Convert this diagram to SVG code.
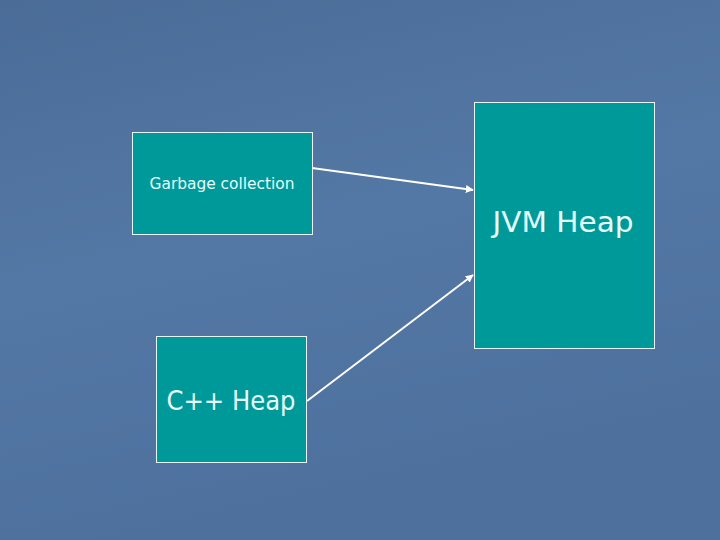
<svg xmlns="http://www.w3.org/2000/svg" width="720" height="540" viewBox="0 0 720 540">
<style>
.box{fill:#009999;stroke:#e8f4f4;stroke-width:1}
.lbl{fill:#e6fbfb;font-family:"DejaVu Sans","Liberation Sans",sans-serif;text-anchor:middle}
.conn{stroke:#ffffff;stroke-width:2;fill:none;marker-end:url(#ah)}
</style>
<defs>
<linearGradient id="bg" x1="0" y1="0" x2="0.3" y2="1">
<stop offset="0" stop-color="#4a6c97"/>
<stop offset="0.5" stop-color="#5478a5"/>
<stop offset="1" stop-color="#4d709d"/>
</linearGradient>
<marker id="ah" viewBox="0 0 10 10" refX="9" refY="5" markerWidth="4" markerHeight="4" orient="auto" markerUnits="strokeWidth">
<path d="M0,0 L10,5 L0,10 z" fill="#ffffff"/>
</marker>
</defs>
<rect width="720" height="540" fill="url(#bg)"/>
<g id="connectors">
<line class="conn" x1="312" y1="168" x2="473" y2="190"/>
<line class="conn" x1="307" y1="401" x2="473" y2="275"/>
</g>
<g id="gc">
<rect class="box" x="132.5" y="132.5" width="180" height="102"/>
<text class="lbl" x="222" y="189" font-size="16" textLength="145" lengthAdjust="spacingAndGlyphs">Garbage collection</text>
</g>
<g id="jvm">
<rect class="box" x="474.5" y="102.5" width="180" height="246"/>
<text class="lbl" x="563" y="232" font-size="28" textLength="141" lengthAdjust="spacingAndGlyphs">JVM Heap</text>
</g>
<g id="cpp">
<rect class="box" x="156.5" y="336.5" width="150" height="126"/>
<text class="lbl" x="231" y="410" font-size="27" textLength="129" lengthAdjust="spacingAndGlyphs">C++ Heap</text>
</g>
</svg>
